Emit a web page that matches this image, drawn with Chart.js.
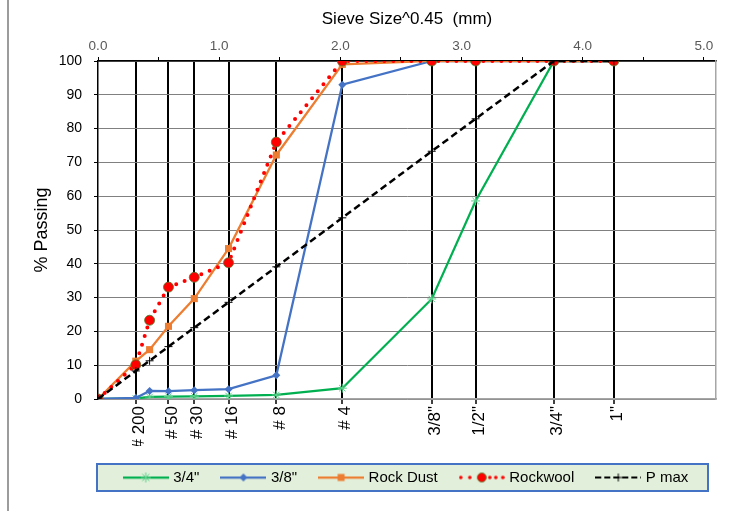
<!DOCTYPE html>
<html>
<head>
<meta charset="utf-8">
<script src="https://cdn.jsdelivr.net/npm/chart.js@4.4.0/dist/chart.umd.min.js"></script>
<style>
  html, body { margin: 0; padding: 0; background: #ffffff; }
  canvas { display: block; }
</style>
</head>
<body>
<canvas id="grading" width="753" height="511"></canvas>
<script>
// Sieve openings raised to the 0.45 power, mm^0.45:
// pan, #200, #100, #50, #30, #16, #8, #4, 3/8", 1/2", 3/4", 1"
const sieveX = [0, 0.3117, 0.4259, 0.5817, 0.7946, 1.0773, 1.4717, 2.0161, 2.7541, 3.1160, 3.7622, 4.2567];

// Sieves that get a labelled vertical line on the chart
const lineSieveX = [0.3117, 0.5817, 0.7946, 1.0773, 1.4717, 2.0161, 2.7541, 3.1160, 3.7622, 4.2567];
const lineSieveLabels = ['# 200', '# 50', '# 30', '# 16', '# 8', '# 4', '3/8"', '1/2"', '3/4"', '1"'];

// Top axis ticks (sieve size ^0.45)
const topTicks = [0, 0.5, 1, 1.5, 2, 2.5, 3, 3.5, 4, 4.5, 5];
const yTicksStep = 10;

// Percent passing for each sieve in sieveX
const pass34 = [0, 0.2, 0.6, 0.7, 0.8, 0.9, 1.2, 3.2, 29.6, 58.6, 100, 100];
const pass38 = [0, 0.3, 2.4, 2.3, 2.6, 2.9, 7.0, 93.0, 100, 100, 100, 100];
const passRockDust = [0, 11.2, 14.6, 21.5, 29.7, 44.5, 72.2, 99.0, 100, 100, 100, 100];
const passRockwool = [0, 10.1, 23.3, 33.1, 36.0, 40.3, 76.0, 100, 100, 100, 100, 100];
const passPmax = [0, 8.3, 11.3, 15.5, 21.1, 28.6, 39.1, 53.6, 73.3, 82.9, 100, 100];

const seriesNames = ['3/4"', '3/8"', 'Rock Dust', 'Rockwool', 'P max'];

const FONT = "'Liberation Sans', Arial, sans-serif";
const GREEN = '#00b050', GREEN_MK = '#5fcf8b';
const BLUE = '#4472c4';
const ORANGE = '#ed7d31';
const RED = '#ff0000', RED_EDGE = '#4e7d2f';

const toPoints = arr => sieveX.map((x, i) => ({ x: x, y: arr[i] }));

// Small line + marker swatches used as legend symbols
function makeIcon(kind) {
  const c = document.createElement('canvas');
  c.width = 46; c.height = 16;
  const g = c.getContext('2d');
  const cy = 8, cx = 23;
  g.lineCap = 'butt';
  if (kind === 'green') {
    g.strokeStyle = GREEN; g.lineWidth = 2.25;
    g.beginPath(); g.moveTo(0, cy); g.lineTo(46, cy); g.stroke();
    g.strokeStyle = GREEN_MK; g.lineWidth = 1;
    g.beginPath();
    g.moveTo(cx - 5, cy); g.lineTo(cx + 5, cy);
    g.moveTo(cx, cy - 5); g.lineTo(cx, cy + 5);
    g.moveTo(cx - 3.5, cy - 3.5); g.lineTo(cx + 3.5, cy + 3.5);
    g.moveTo(cx - 3.5, cy + 3.5); g.lineTo(cx + 3.5, cy - 3.5);
    g.stroke();
  } else if (kind === 'blue') {
    g.strokeStyle = BLUE; g.lineWidth = 2.25;
    g.beginPath(); g.moveTo(0, cy); g.lineTo(46, cy); g.stroke();
    g.fillStyle = BLUE;
    g.beginPath(); g.moveTo(cx, cy - 4); g.lineTo(cx + 4, cy); g.lineTo(cx, cy + 4); g.lineTo(cx - 4, cy); g.closePath(); g.fill();
  } else if (kind === 'orange') {
    g.strokeStyle = ORANGE; g.lineWidth = 2.25;
    g.beginPath(); g.moveTo(0, cy); g.lineTo(46, cy); g.stroke();
    g.fillStyle = ORANGE;
    g.fillRect(cx - 3.5, cy - 3.5, 7, 7);
  } else if (kind === 'red') {
    g.fillStyle = RED;
    [2, 11, 31, 37, 44].forEach(x => { g.beginPath(); g.arc(x, cy, 1.8, 0, Math.PI * 2); g.fill(); });
    g.beginPath(); g.arc(cx, cy, 4.5, 0, Math.PI * 2); g.fill();
    g.strokeStyle = RED_EDGE; g.lineWidth = 0.8; g.stroke();
  } else {
    g.strokeStyle = '#000'; g.lineWidth = 2;
    g.setLineDash([6, 3]);
    g.beginPath(); g.moveTo(0, cy); g.lineTo(46, cy); g.stroke();
    g.setLineDash([]); g.lineWidth = 1;
    g.beginPath(); g.moveTo(cx - 4, cy); g.lineTo(cx + 4, cy); g.moveTo(cx, cy - 4); g.lineTo(cx, cy + 4); g.stroke();
  }
  return c;
}
const legendIcons = [makeIcon('green'), makeIcon('blue'), makeIcon('orange'), makeIcon('red'), makeIcon('black')];

// Legend panel fill and frame, page edge line
const framePlugin = {
  id: 'framePlugin',
  beforeDraw(chart) {
    const ctx = chart.ctx;
    const area = chart.chartArea;
    const lg = chart.legend;
    if (lg && lg.legendHitBoxes && lg.legendHitBoxes.length) {
      const hb = lg.legendHitBoxes[0];
      const cy = hb.top + hb.height / 2;
      const left = area.left - 1, right = area.right - 8;
      ctx.save();
      ctx.fillStyle = '#e2efda';
      ctx.fillRect(left, cy - 13.5, right - left, 27);
      ctx.strokeStyle = '#4472c4';
      ctx.lineWidth = 2;
      ctx.strokeRect(left, cy - 13.5, right - left, 27);
      ctx.restore();
    }
    ctx.save();
    ctx.fillStyle = '#3a3a3a';
    ctx.fillRect(7.5, 0, 1, chart.height);
    ctx.restore();
  }
};

Chart.defaults.font.family = FONT;
Chart.defaults.color = '#000';

new Chart(document.getElementById('grading'), {
  type: 'scatter',
  data: {
    datasets: [
      {
        label: seriesNames[0], data: toPoints(pass34), showLine: true, order: 5,
        borderColor: GREEN, borderWidth: 2.25,
        pointStyle: 'star', pointRadius: 4.5, pointBorderColor: GREEN_MK, pointBackgroundColor: GREEN_MK, pointBorderWidth: 1
      },
      {
        label: seriesNames[1], data: toPoints(pass38), showLine: true, order: 4,
        borderColor: BLUE, borderWidth: 2.25,
        pointStyle: 'rectRot', pointRadius: 4, pointBorderColor: BLUE, pointBackgroundColor: BLUE, pointBorderWidth: 0
      },
      {
        label: seriesNames[2], data: toPoints(passRockDust), showLine: true, order: 3,
        borderColor: ORANGE, borderWidth: 2.25,
        pointStyle: 'rect', pointRadius: 5, pointBorderColor: ORANGE, pointBackgroundColor: ORANGE, pointBorderWidth: 0
      },
      {
        label: seriesNames[3], data: toPoints(passRockwool), showLine: true, order: 2,
        borderColor: RED, borderWidth: 4, borderDash: [0, 9], borderCapStyle: 'round',
        pointStyle: 'circle', pointRadius: 5, pointBorderColor: RED_EDGE, pointBackgroundColor: RED, pointBorderWidth: 0.8
      },
      {
        label: seriesNames[4], data: toPoints(passPmax), showLine: true, order: 1,
        borderColor: '#000', borderWidth: 2.5, borderDash: [7, 4],
        pointStyle: 'cross', pointRadius: 4, pointBorderColor: '#000', pointBorderWidth: 1
      }
    ]
  },
  options: {
    responsive: false,
    animation: false,
    events: [],
    layout: { padding: { top: 0, left: 0, right: 37, bottom: 16 } },
    plugins: {
      tooltip: { enabled: false },
      legend: {
        position: 'bottom',
        fullSize: false,
        labels: {
          usePointStyle: true,
          pointStyleWidth: 40,
          padding: 24,
          color: '#000',
          font: { size: 15, family: FONT },
          generateLabels(chart) {
            return chart.data.datasets.map((ds, i) => ({
              text: ds.label,
              pointStyle: legendIcons[i],
              datasetIndex: i,
              hidden: false,
              fontColor: '#000',
              lineWidth: 0,
              strokeStyle: 'rgba(0,0,0,0)',
              fillStyle: 'rgba(0,0,0,0)'
            }));
          }
        }
      }
    },
    scales: {
      x: {
        type: 'linear', position: 'bottom', min: 0, max: 5.1,
        afterBuildTicks(scale) { scale.ticks = lineSieveX.map(v => ({ value: v })); },
        afterFit(scale) { scale.height = 47; },
        ticks: {
          autoSkip: false, minRotation: 90, maxRotation: 90,
          padding: 2, labelOffset: 3.5,
          font: { size: 17, family: FONT }, color: '#000',
          callback(value, index) { return lineSieveLabels[index]; }
        },
        grid: { color: '#000', lineWidth: 2, tickLength: 5, tickColor: '#000', tickWidth: 1.5 },
        border: { color: '#a6a6a6', width: 1.5 }
      },
      xTop: {
        type: 'linear', position: 'top', min: 0, max: 5.1,
        afterBuildTicks(scale) { scale.ticks = topTicks.map(v => ({ value: v })); },
        afterFit(scale) { scale.height = 61; },
        ticks: {
          autoSkip: false, maxRotation: 0, padding: 3,
          font: { size: 13.5, family: FONT }, color: '#595959',
          callback(value) { return Number.isInteger(value) ? value.toFixed(1) : ''; }
        },
        grid: { drawOnChartArea: false, tickLength: 4, tickColor: '#000', tickWidth: 1 },
        border: { color: '#000', width: 1.5 },
        title: { display: true, text: 'Sieve Size^0.45  (mm)', color: '#000', font: { size: 17, family: FONT }, padding: { top: 9, bottom: 0 } }
      },
      y: {
        type: 'linear', position: 'left', min: 0, max: 100,
        afterFit(scale) { scale.width = 98; },
        ticks: { stepSize: yTicksStep, padding: 12, font: { size: 14, family: FONT }, color: '#000' },
        grid: { color: '#808080', lineWidth: 1, tickLength: 4, tickColor: '#000' },
        border: { color: '#000', width: 1.5 },
        title: { display: true, text: '% Passing', color: '#000', font: { size: 18, family: FONT }, padding: { top: 31, bottom: 0 } }
      },
      yRight: {
        type: 'linear', position: 'right', min: 0, max: 100,
        afterFit(scale) { scale.width = 0; },
        ticks: { display: false },
        grid: { drawOnChartArea: false, drawTicks: false },
        border: { color: '#a6a6a6', width: 1.5 }
      }
    }
  },
  plugins: [framePlugin]
});
</script>
</body>
</html>
